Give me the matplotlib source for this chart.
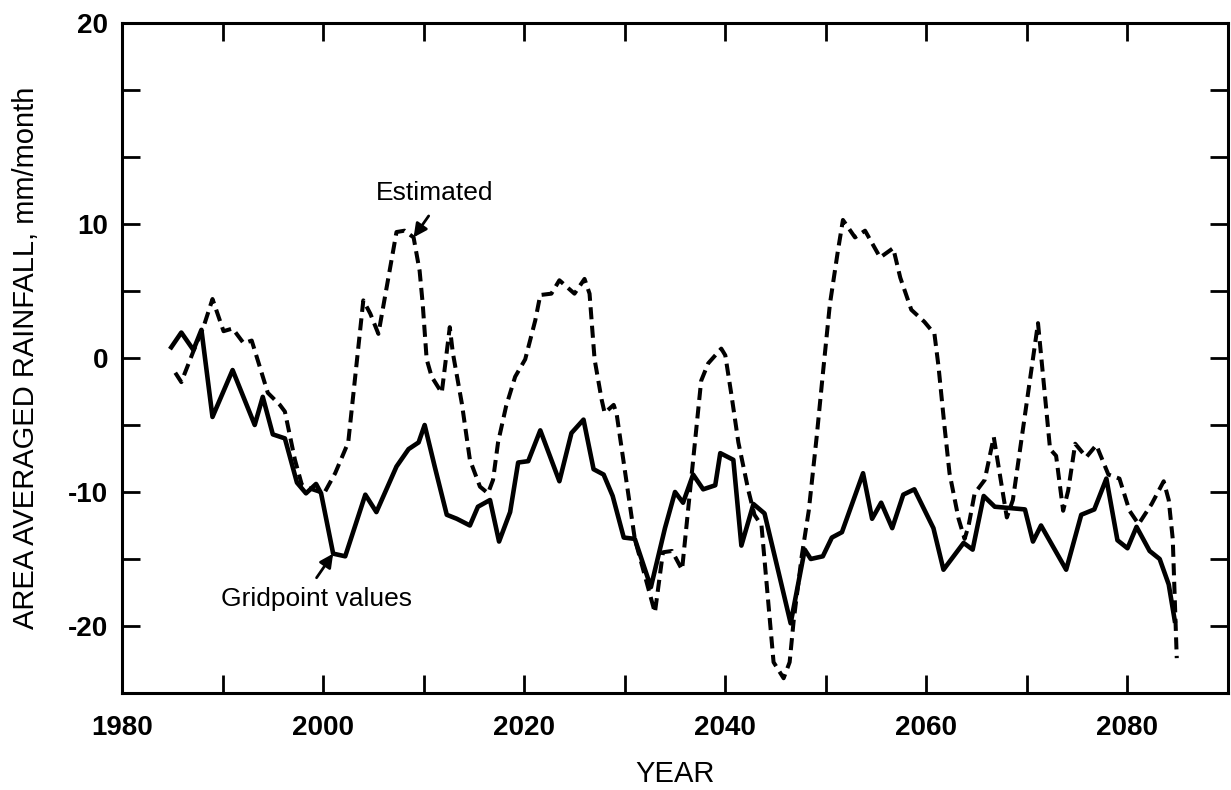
import matplotlib
matplotlib.use('Agg')
import matplotlib.pyplot as plt

# gridpoint values (solid line)
grid_years = [1984.9, 1985.9, 1987.1, 1987.9, 1989.0, 1991.0, 1993.2, 1994.0, 1995.0, 1996.2,
              1997.4, 1998.3, 1999.3, 1999.8, 2001.0, 2002.2, 2004.2, 2005.3, 2007.3, 2008.5,
              2009.5, 2010.1, 2011.1, 2012.3, 2013.3, 2014.6, 2015.4, 2016.6, 2017.5, 2018.6,
              2019.4, 2020.4, 2021.6, 2023.5, 2024.7, 2025.9, 2026.9, 2027.9, 2028.8, 2029.9,
              2031.0, 2032.6, 2034.0, 2035.0, 2035.8, 2036.8, 2037.8, 2039.0, 2039.5, 2040.8,
              2041.6, 2042.8, 2043.9, 2045.3, 2046.5, 2047.9, 2048.5, 2049.7, 2050.6, 2051.6,
              2053.7, 2054.6, 2055.5, 2056.6, 2057.7, 2058.8, 2060.7, 2061.7, 2063.7, 2064.6,
              2065.7, 2066.8, 2068.3, 2069.8, 2070.6, 2071.4, 2073.9, 2075.4, 2076.7, 2077.9,
              2079.0, 2080.0, 2080.9, 2082.2, 2083.2, 2084.1, 2084.7]
grid_vals = [0.8, 1.9, 0.6, 2.1, -4.4, -0.9, -5.0, -2.9, -5.7, -6.0,
             -9.3, -10.1, -9.4, -10.1, -14.6, -14.8, -10.2, -11.5, -8.1, -6.8,
             -6.3, -5.0, -8.1, -11.7, -12.0, -12.5, -11.1, -10.6, -13.7, -11.5,
             -7.8, -7.7, -5.4, -9.2, -5.6, -4.6, -8.3, -8.7, -10.3, -13.4,
             -13.5, -17.1, -12.7, -10.0, -10.8, -8.7, -9.8, -9.5, -7.1, -7.6,
             -14.0, -10.9, -11.6, -16.0, -19.8, -14.3, -15.0, -14.8, -13.4, -13.0,
             -8.6, -12.0, -10.8, -12.7, -10.2, -9.8, -12.7, -15.8, -13.8, -14.3,
             -10.3, -11.1, -11.2, -11.3, -13.7, -12.5, -15.8, -11.7, -11.3, -9.0,
             -13.6, -14.2, -12.6, -14.4, -15.0, -16.9, -19.6]

# estimated (dashed line)
est_years = [1985.3, 1985.9, 1987.1, 1988.1, 1989.0, 1990.1, 1991.0, 1992.1, 1992.9, 1994.5,
             1995.7, 1996.2, 1997.2, 1997.9, 1998.9, 2000.1, 2001.2, 2002.5, 2004.0, 2004.7,
             2005.5, 2007.3, 2008.1, 2009.0, 2009.6, 2009.9, 2010.3, 2010.8, 2011.8, 2012.6,
             2012.9, 2013.8, 2014.6, 2015.6, 2016.4, 2016.9, 2017.4, 2018.2, 2019.1, 2020.1,
             2021.1, 2021.6, 2022.7, 2023.5, 2025.0, 2026.0, 2026.5, 2027.0, 2027.7, 2028.0,
             2028.9, 2029.2, 2031.0, 2033.0, 2033.8, 2034.7, 2035.7, 2037.6, 2038.3, 2039.6,
             2040.0, 2040.6, 2041.3, 2042.3, 2042.9, 2043.6, 2044.8, 2045.8, 2046.4, 2046.8,
             2047.6, 2048.3, 2049.1, 2049.7, 2050.4, 2051.2, 2051.7, 2052.9, 2053.9, 2055.4,
             2056.7, 2057.4, 2058.5, 2059.8, 2060.8, 2061.2, 2061.8, 2062.3, 2063.2, 2063.8,
             2064.2, 2064.8, 2065.8, 2066.7, 2068.0, 2068.6, 2071.1, 2072.3, 2072.9, 2073.6,
             2074.1, 2074.8, 2075.9, 2076.9, 2078.1, 2079.2, 2080.2, 2081.1, 2082.4, 2083.6,
             2084.1, 2084.5, 2084.9]
est_vals = [-1.1, -1.8, 0.5, 2.3, 4.4, 2.0, 2.2, 1.1, 1.3, -2.6,
            -3.5, -4.0, -7.6, -9.5, -9.8, -10.1, -8.6, -6.3, 4.3, 3.3,
            1.8, 9.4, 9.5, 9.0, 6.5, 4.1, -0.1, -1.4, -2.6, 2.3,
            0.4, -3.4, -7.6, -9.6, -10.1, -9.1, -6.3, -3.6, -1.4, -0.1,
            2.8, 4.7, 4.8, 5.8, 4.8, 5.9, 4.8, -0.1, -3.1, -4.1,
            -3.5, -4.2, -13.5, -19.0, -14.5, -14.4, -15.8, -1.7, -0.4, 0.7,
            0.2, -2.7, -6.3, -9.9, -11.7, -12.5, -22.7, -23.9, -22.7, -19.6,
            -14.8, -11.4, -5.8, -1.2, 4.0, 8.0, 10.3, 9.0, 9.5, 7.5,
            8.2, 6.0, 3.6, 2.7, 1.8, -0.6, -5.1, -8.6, -12.0, -13.5,
            -12.5, -10.1, -9.1, -5.9, -11.9, -10.6, 2.6, -6.8, -7.3, -11.4,
            -9.9, -6.4, -7.4, -6.5, -8.7, -9.0, -11.4, -12.4, -10.9, -9.2,
            -10.6, -13.5, -22.4]

x_ticks = list(range(1980, 2081, 10))
x_labels = ['1980', '', '2000', '', '2020', '', '2040', '', '2060', '', '2080']
y_ticks = list(range(-25, 26, 5))
y_labels = ['', '-20', '', '-10', '', '0', '', '10', '', '', '20']

plt.rcParams['font.family'] = ['Liberation Sans', 'DejaVu Sans']

fig = plt.figure(figsize=(12.31, 7.90), dpi=100)
ax = fig.add_axes([0.0991, 0.1228, 0.8985, 0.8481])

ax.plot(grid_years, grid_vals, color='black', lw=3.3)
ax.plot(est_years, est_vals, color='black', lw=2.9, dashes=(3, 1.6), dash_capstyle='butt')

ax.set_xlim(1980, 2090)
ax.set_ylim(-25, 25)
ax.set_xticks(x_ticks)
ax.set_xticklabels(x_labels)
ax.set_yticks(y_ticks)
ax.set_yticklabels(y_labels)
ax.tick_params(direction='in', length=13, width=2, top=True, right=True, labelsize=20)
ax.tick_params(axis='x', pad=16)
ax.tick_params(axis='y', pad=10)
for lbl in ax.get_xticklabels() + ax.get_yticklabels():
    lbl.set_fontweight('bold')
for sp in ax.spines.values():
    sp.set_linewidth(2.2)

ax.set_ylabel('AREA AVERAGED RAINFALL, mm/month', fontsize=21)
ax.yaxis.set_label_coords(-0.074, 0.5)
ax.set_xlabel('YEAR', fontsize=21)
ax.xaxis.set_label_coords(0.5, -0.1)

arrow = dict(arrowstyle='-|>', color='black', lw=2, mutation_scale=20, shrinkA=0, shrinkB=0)
ax.annotate('', xy=(est_years[23], est_vals[23]), xytext=(2010.5, 10.6), arrowprops=arrow)
ax.text(2011.1, 12.3, 'Estimated', fontsize=19, ha='center', va='center')
ax.annotate('', xy=(grid_years[14], grid_vals[14]), xytext=(1999.35, -16.4), arrowprops=arrow)
ax.text(1999.35, -18.0, 'Gridpoint values', fontsize=19, ha='center', va='center')

fig.savefig('out.png', dpi=100)
